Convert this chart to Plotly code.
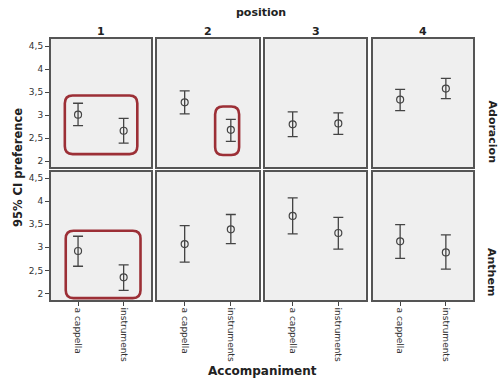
import plotly.graph_objects as go

# Facet layout: columns = position, rows = song
positions = ["1", "2", "3", "4"]
accompaniment = ["a cappella", "instruments"]
songs = ["Adoracion", "Anthem"]

# Means and 95% CI bounds, per position: [a cappella, instruments]
adoracion_mean = [[3.01, 2.66], [3.28, 2.68], [2.80, 2.82], [3.34, 3.58]]
adoracion_low = [[2.77, 2.39], [3.03, 2.43], [2.53, 2.58], [3.10, 3.36]]
adoracion_high = [[3.26, 2.93], [3.53, 2.91], [3.07, 3.05], [3.56, 3.80]]

anthem_mean = [[2.92, 2.35], [3.07, 3.39], [3.68, 3.31], [3.13, 2.89]]
anthem_low = [[2.59, 2.07], [2.68, 3.08], [3.29, 2.96], [2.76, 2.53]]
anthem_high = [[3.24, 2.62], [3.47, 3.71], [4.07, 3.65], [3.49, 3.27]]

y_ticks = [2, 2.5, 3, 3.5, 4, 4.5]
y_tick_text = ["2", "2,5", "3", "3,5", "4", "4,5"]

# Highlighted cells: (row, col, x0, x1, y0, y1) in axis units
highlights = [
    (0, 0, -0.29, 1.30, 2.15, 3.43),
    (0, 1, 0.66, 1.18, 2.13, 3.19),
    (1, 0, -0.27, 1.37, 1.90, 3.36),
]

W, H = 498, 381
col_px = [(50.7, 151.0), (157.0, 258.5), (265.3, 365.7), (372.7, 473.3)]
row_px = [(39, 167), (172, 300)]
row_ranges = [[1.87, 4.66], [1.86, 4.63]]
x_range = [-0.6, 1.6]

INK = "#444444"
FRAME = "#555555"
FONT = "DejaVu Sans"
TITLE = "#222222"

rows = [(adoracion_mean, adoracion_low, adoracion_high),
        (anthem_mean, anthem_low, anthem_high)]

fig = go.Figure()
layout = {}

for r, (means, lows, highs) in enumerate(rows):
    for c in range(len(positions)):
        idx = r * 4 + c + 1
        xa = "x" if idx == 1 else f"x{idx}"
        ya = "y" if idx == 1 else f"y{idx}"
        m, lo, hi = means[c], lows[c], highs[c]
        fig.add_trace(go.Scatter(
            x=list(range(len(accompaniment))), y=m,
            mode="markers",
            marker=dict(symbol="circle-open", size=7, color=INK,
                        line=dict(width=1.2, color=INK)),
            error_y=dict(type="data", symmetric=False,
                         array=[h - v for h, v in zip(hi, m)],
                         arrayminus=[v - l for v, l in zip(m, lo)],
                         color=INK, thickness=1.3, width=5),
            xaxis=xa, yaxis=ya, showlegend=False, hoverinfo="skip",
        ))
        x0, x1 = col_px[c]
        ytop, ybot = row_px[r]
        bottom_row = r == len(rows) - 1
        first_col = c == 0
        layout[f"xaxis{'' if idx == 1 else idx}"] = dict(
            domain=[x0 / W, x1 / W], anchor=ya, range=x_range,
            tickvals=list(range(len(accompaniment))), ticktext=accompaniment,
            showticklabels=bottom_row, ticks="outside" if bottom_row else "",
            ticklen=4, tickcolor=INK, tickwidth=1, tickangle=90,
            tickfont=dict(family=FONT, size=9, color="#333333"),
            showline=True, mirror=True, linecolor=FRAME, linewidth=1.5,
            showgrid=False, zeroline=False, fixedrange=True,
        )
        layout[f"yaxis{'' if idx == 1 else idx}"] = dict(
            domain=[1 - ybot / H, 1 - ytop / H], anchor=xa, range=row_ranges[r],
            tickvals=y_ticks, ticktext=y_tick_text,
            showticklabels=first_col, ticks="outside" if first_col else "",
            ticklen=4, tickcolor=INK, tickwidth=1,
            tickfont=dict(family=FONT, size=9, color="#333333"),
            showline=True, mirror=True, linecolor=FRAME, linewidth=1.5,
            showgrid=False, zeroline=False, fixedrange=True,
        )


def rounded_path(x0, x1, y0, y1, rx, ry):
    return (f"M {x0 + rx},{y1} L {x1 - rx},{y1} Q {x1},{y1} {x1},{y1 - ry} "
            f"L {x1},{y0 + ry} Q {x1},{y0} {x1 - rx},{y0} "
            f"L {x0 + rx},{y0} Q {x0},{y0} {x0},{y0 + ry} "
            f"L {x0},{y1 - ry} Q {x0},{y1} {x0 + rx},{y1} Z")


shapes = []
for r, c, hx0, hx1, hy0, hy1 in highlights:
    idx = r * 4 + c + 1
    shapes.append(dict(
        type="path", xref="x" if idx == 1 else f"x{idx}",
        yref="y" if idx == 1 else f"y{idx}",
        path=rounded_path(hx0, hx1, hy0, hy1, 0.17, 0.17),
        line=dict(color="#9c2f36", width=2.6), layer="above",
    ))


def label(text, px, py, size, angle=0):
    return dict(text=f"<b>{text}</b>", x=px / W, y=1 - py / H,
                xref="paper", yref="paper", xanchor="center", yanchor="middle",
                showarrow=False, textangle=angle,
                font=dict(family=FONT, size=size, color=TITLE))


annotations = [
    label("position", 260.5, 12.5, 11),
    label("Accompaniment", 262, 371, 12),
    label("95% CI preference", 18, 168, 11.5, -90),
    label(songs[0], 492, 131.5, 11, 90),
    label(songs[1], 492, 272, 11, 90),
]
for c, p in enumerate(positions):
    x0, x1 = col_px[c]
    annotations.append(label(p, (x0 + x1) / 2, 31, 11))

fig.update_layout(
    width=W, height=H, margin=dict(l=0, r=0, t=0, b=0),
    paper_bgcolor="white", plot_bgcolor="#efefef",
    shapes=shapes, annotations=annotations, **layout,
)

fig.write_html("out.html")
